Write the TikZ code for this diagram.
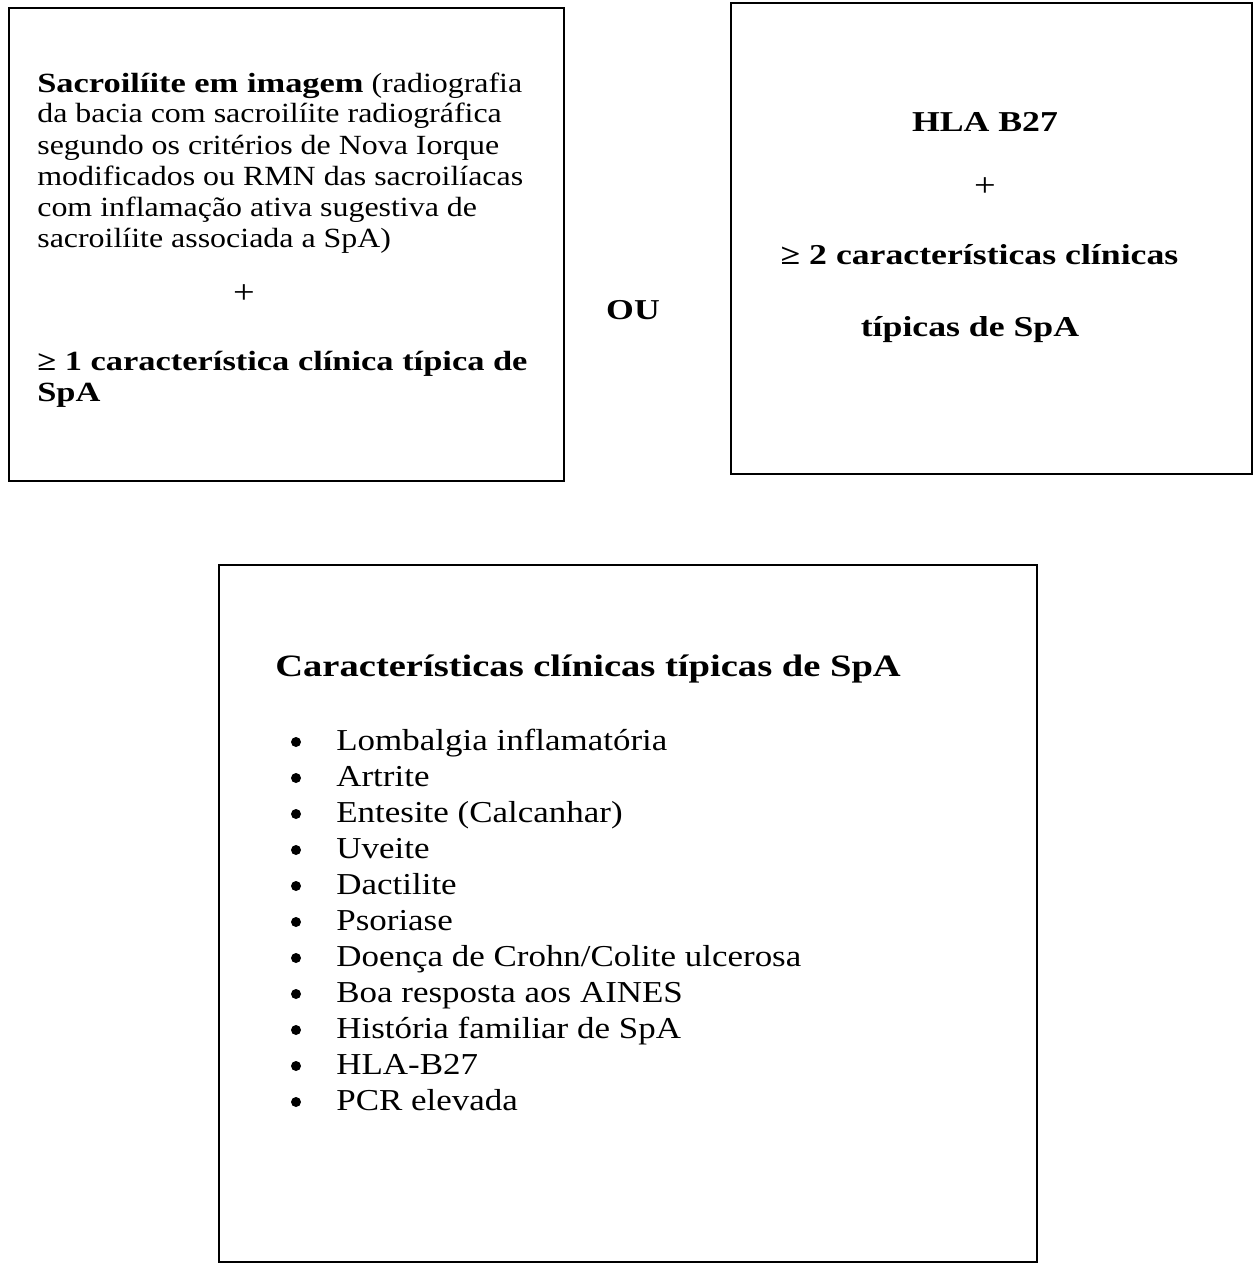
\documentclass[tikz,border=0pt]{standalone}
\usepackage{fontspec}
\setmainfont{Liberation Serif}[FakeStretch=1.15, BoldFeatures={FakeStretch=1.24}]
\usetikzlibrary{positioning}

\tikzset{
  caixa/.style={draw, line width=1.1pt, inner sep=0pt},
  linha/.style={anchor=base west, inner sep=0pt, font=\fontsize{15.8pt}{18pt}\selectfont},
  centro/.style={anchor=base, inner sep=0pt, font=\fontsize{16.4pt}{19pt}\selectfont\bfseries},
  sinal/.style={anchor=base, inner sep=0pt, font=\fontsize{19pt}{20pt}\selectfont},
  item/.style={anchor=base west, inner sep=0pt, font=\fontsize{17.3pt}{20pt}\selectfont},
  ponto/.style={circle, fill, inner sep=0pt, minimum size=0.2cm},
}

\begin{document}
\begin{tikzpicture}[x=0.02cm, y=-0.02cm]
  \useasboundingbox (0,0) rectangle (1258,1264);

  % as três caixas
  \node[caixa, minimum width=11.1cm, minimum height=9.46cm] (imagem) at (286.5,244.5) {};
  \node[caixa, minimum width=10.42cm, minimum height=9.42cm] (hla) at (991.5,238.5) {};
  \node[caixa, minimum width=16.36cm, minimum height=13.94cm] (clinica) at (628,913.5) {};

  % caixa da esquerda
  \node[linha] (l1) at (37,92) {\textbf{Sacroilíite em imagem} (radiografia};
  \node[linha] (l2) at (37,123) {da bacia com sacroilíite radiográfica};
  \node[linha] (l3) at (37,154) {segundo os critérios de Nova Iorque};
  \node[linha] (l4) at (37,185) {modificados ou RMN das sacroilíacas};
  \node[linha] (l5) at (37,216) {com inflamação ativa sugestiva de};
  \node[linha] (l6) at (37,247) {sacroilíite associada a SpA)};
  \node[sinal] (mais1) at (244,303) {+};
  \node[linha, font=\fontsize{15.8pt}{18pt}\selectfont\bfseries] (l7) at (37,370) {≥ 1 característica clínica típica de};
  \node[linha, font=\fontsize{15.8pt}{18pt}\selectfont\bfseries] (l8) at (37,401) {SpA};

  % ou
  \node[centro] (ou) at (633,319) {OU};

  % caixa da direita
  \node[centro] (b27) at (985,132) {HLA B27};
  \node[sinal] (mais2) at (985,196) {+};
  \node[centro] (r1) at (979.5,264) {≥ 2 características clínicas};
  \node[centro] (r2) at (970,336) {típicas de SpA};

  % caixa de baixo
  \node[item, font=\fontsize{17.7pt}{20pt}\selectfont\bfseries] (titulo) at (275,676) {Características clínicas típicas de SpA};
  \foreach \txt [count=\i] in {Lombalgia inflamatória, Artrite, Entesite (Calcanhar), Uveite,
      Dactilite, Psoriase, Doença de Crohn/Colite ulcerosa, Boa resposta aos AINES,
      História familiar de SpA, HLA-B27, PCR elevada} {
    \node[ponto] (dot\i) at (296,{742+36*(\i-1)}) {};
    \node[item] (item\i) at (336,{750+36*(\i-1)}) {\txt};
  }
\end{tikzpicture}
\end{document}
